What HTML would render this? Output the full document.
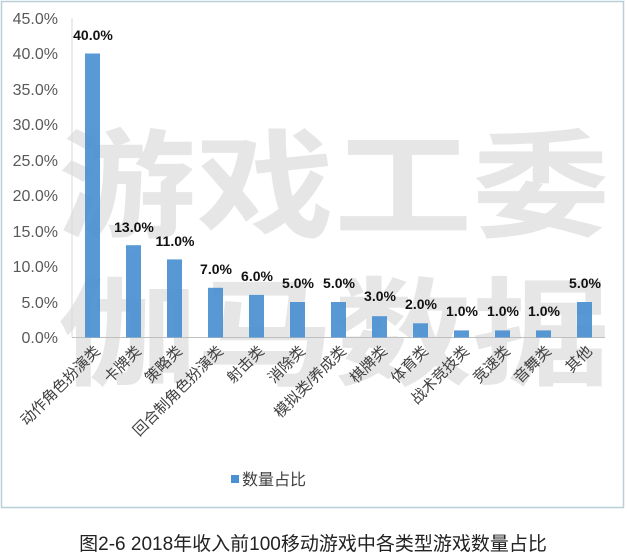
<!DOCTYPE html>
<html><head><meta charset="utf-8"><style>
body{margin:0;background:#fff;}
svg{display:block;}
text{font-family:"Liberation Sans","Noto Sans CJK SC",sans-serif;}
</style></head><body>
<svg width="627" height="558" viewBox="0 0 627 558" xmlns="http://www.w3.org/2000/svg">
<rect x="0" y="0" width="627" height="558" fill="#fff"/>
<rect x="1.5" y="1.5" width="622" height="506" fill="#fff" stroke="#b9cfd9" stroke-width="1.5"/>
<g fill="#e6e6e6" font-size="118" font-weight="bold">
<text transform="translate(58,228) scale(1.17,1)" font-family="Noto Sans CJK SC, sans-serif">游戏工委</text>
<text transform="translate(58,376) scale(1.17,1)" font-family="Noto Sans CJK SC, sans-serif">伽马数据</text>
</g>
<line x1="72" y1="18" x2="72" y2="337" stroke="#d9d9d9"/>
<line x1="72" y1="337.5" x2="605" y2="337.5" stroke="#bfbfbf"/>
<g font-size="16" fill="#595959" text-anchor="end">
<text x="58" y="343">0.0%</text>
<text x="58" y="308">5.0%</text>
<text x="58" y="272">10.0%</text>
<text x="58" y="237">15.0%</text>
<text x="58" y="201">20.0%</text>
<text x="58" y="166">25.0%</text>
<text x="58" y="130">30.0%</text>
<text x="58" y="95">35.0%</text>
<text x="58" y="59">40.0%</text>
<text x="58" y="24">45.0%</text>
</g>
<g fill="#4a90d2" opacity="0.92">
<rect x="85" y="53.5" width="15" height="284"/>
<rect x="126" y="245.2" width="15" height="92.3"/>
<rect x="167" y="259.4" width="15" height="78.1"/>
<rect x="208" y="287.8" width="15" height="49.7"/>
<rect x="249" y="294.9" width="15" height="42.6"/>
<rect x="290" y="302" width="15" height="35.5"/>
<rect x="331" y="302" width="15" height="35.5"/>
<rect x="372" y="316.2" width="15" height="21.3"/>
<rect x="413" y="323.3" width="15" height="14.2"/>
<rect x="454" y="330.4" width="15" height="7.1"/>
<rect x="495" y="330.4" width="15" height="7.1"/>
<rect x="536" y="330.4" width="15" height="7.1"/>
<rect x="577" y="302" width="15" height="35.5"/>
</g>
<g font-size="14" font-weight="bold" fill="#111" text-anchor="middle">
<text x="93" y="40">40.0%</text>
<text x="134" y="232">13.0%</text>
<text x="175" y="246">11.0%</text>
<text x="216" y="274">7.0%</text>
<text x="257" y="281">6.0%</text>
<text x="298" y="288">5.0%</text>
<text x="339" y="288">5.0%</text>
<text x="380" y="301">3.0%</text>
<text x="421" y="309">2.0%</text>
<text x="462" y="316">1.0%</text>
<text x="503" y="316">1.0%</text>
<text x="544" y="316">1.0%</text>
<text x="585" y="288">5.0%</text>
</g>
<g font-size="15" fill="#404040" text-anchor="end">
<text transform="translate(101,352) rotate(-45)">动作角色扮演类</text>
<text transform="translate(142,352) rotate(-45)">卡牌类</text>
<text transform="translate(183,352) rotate(-45)">策略类</text>
<text transform="translate(224,352) rotate(-45)">回合制角色扮演类</text>
<text transform="translate(265,352) rotate(-45)">射击类</text>
<text transform="translate(306,352) rotate(-45)">消除类</text>
<text transform="translate(347,352) rotate(-45)">模拟类/养成类</text>
<text transform="translate(388,352) rotate(-45)">棋牌类</text>
<text transform="translate(429,352) rotate(-45)">体育类</text>
<text transform="translate(470,352) rotate(-45)">战术竞技类</text>
<text transform="translate(511,352) rotate(-45)">竞速类</text>
<text transform="translate(552,352) rotate(-45)">音舞类</text>
<text transform="translate(593,352) rotate(-45)">其他</text>
</g>
<rect x="231" y="475" width="8" height="8" fill="#4a90d2"/>
<text x="242" y="485" font-size="16" fill="#404040">数量占比</text>
<text x="313" y="550" font-size="19" fill="#222" text-anchor="middle">图2-6 2018年收入前100移动游戏中各类型游戏数量占比</text>
</svg>
</body></html>
